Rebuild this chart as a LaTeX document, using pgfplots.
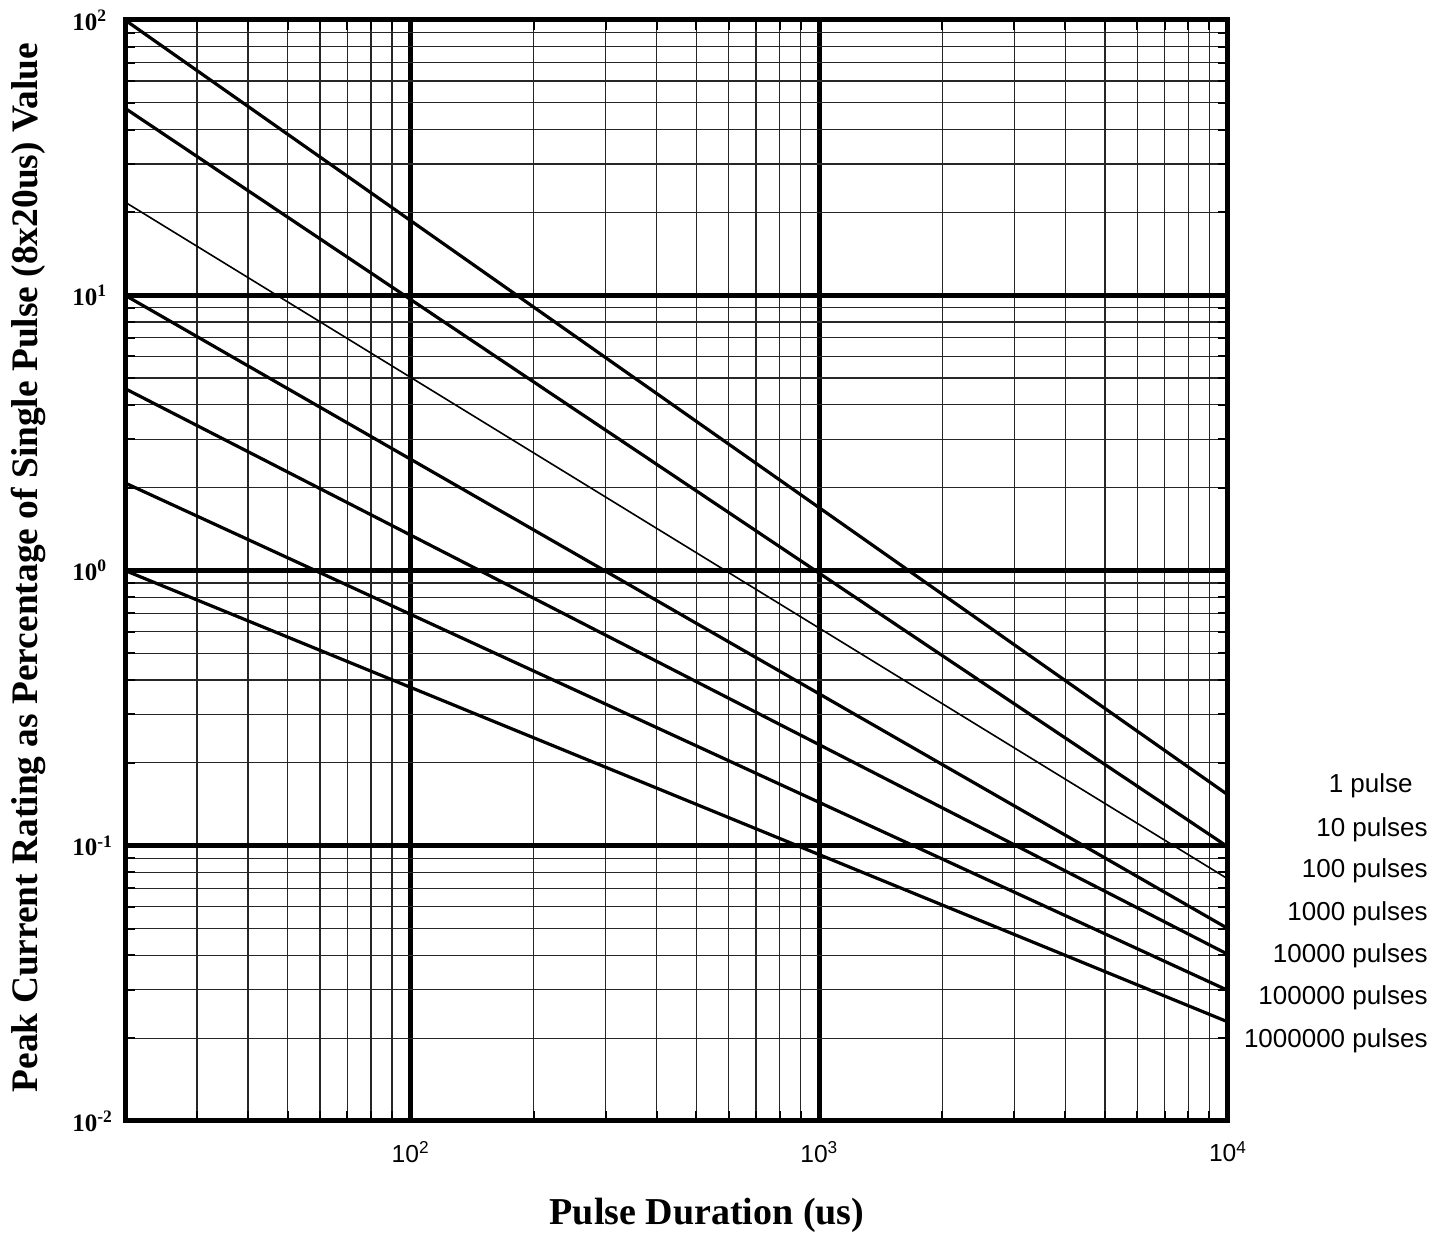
\documentclass[border=0pt]{standalone}
\usepackage{fontspec}
\setmainfont{Liberation Serif}
\newfontfamily\arial{Liberation Sans}
\usepackage{pgfplots}
\pgfplotsset{compat=1.18}
\begin{document}
\begin{tikzpicture}
\useasboundingbox (-62.5pt,-56.5pt) rectangle (661pt,560.5pt);
\begin{axis}[
  at={(0,0)}, anchor=south west,
  scale only axis, width=551.5pt, height=550.5pt,
  xmode=log, ymode=log,
  xmin=20, xmax=10000, ymin=0.01, ymax=100,
  xtick={100,1000,10000},
  xticklabels={10\textsuperscript{2},10\textsuperscript{3},10\textsuperscript{4}},
  ytick={0.01,0.1,1,10,100},
  yticklabels={\textbf{10\textsuperscript{-2}},\textbf{10\textsuperscript{-1}},\textbf{10\textsuperscript{0}},\textbf{10\textsuperscript{1}},\textbf{10\textsuperscript{2}}},
  minor xtick={20,30,40,50,60,70,80,90,200,300,400,500,600,700,800,900,2000,3000,4000,5000,6000,7000,8000,9000},
  minor ytick={0.02,0.03,0.04,0.05,0.06,0.07,0.08,0.09,0.2,0.3,0.4,0.5,0.6,0.7,0.8,0.9,2,3,4,5,6,7,8,9,20,30,40,50,60,70,80,90},
  grid=both,
  major grid style={line width=2.4pt, black},
  minor grid style={line width=0.6pt, black!85},
  axis line style={line width=2.5pt},
  tick align=inside,
  major tick length=0pt,
  minor tick length=5pt,
  minor tick style={line width=1pt, black},
  xticklabel style={font=\arial\fontsize{12.3}{12.3}\selectfont, inner sep=0pt, yshift=-10pt},
  yticklabel style={font=\fontsize{12.5}{12.5}\selectfont, anchor=west, inner sep=0pt, xshift=-26.5pt},
  clip=true,
]
\addplot[black, line width=1.6pt] coordinates {(20,100) (10000,0.153)};
\addplot[black, line width=1.6pt] coordinates {(20,47.8) (10000,0.099)};
\addplot[black, line width=0.8pt] coordinates {(20,21.8) (10000,0.0757)};
\addplot[black, line width=1.6pt] coordinates {(20,10) (10000,0.050)};
\addplot[black, line width=1.6pt] coordinates {(20,4.58) (10000,0.0403)};
\addplot[black, line width=1.6pt] coordinates {(20,2.08) (10000,0.0298)};
\addplot[black, line width=1.6pt] coordinates {(20,1.0) (10000,0.0229)};
\end{axis}
\begin{scope}[every node/.style={font=\arial\fontsize{13}{13}\selectfont, inner sep=0pt}]
\node[anchor=base east] at (644pt,164pt) {1 pulse};
\node[anchor=base east] at (651.5pt,142pt) {10 pulses};
\node[anchor=base east] at (651.5pt,121.5pt) {100 pulses};
\node[anchor=base east] at (651.5pt,100pt) {1000 pulses};
\node[anchor=base east] at (651.5pt,79pt) {10000 pulses};
\node[anchor=base east] at (651.5pt,58pt) {100000 pulses};
\node[anchor=base east] at (651.5pt,36.5pt) {1000000 pulses};
\end{scope}
\node[anchor=base, inner sep=0pt, font=\fontsize{19}{19}\selectfont\bfseries] at (291pt,-52pt) {Pulse Duration (us)};
\node[anchor=base, inner sep=0pt, rotate=90, font=\fontsize{18.7}{18.7}\selectfont\bfseries] at (-43.5pt,276.75pt) {Peak Current Rating as Percentage of Single Pulse (8x20us) Value};
\end{tikzpicture}
\end{document}
